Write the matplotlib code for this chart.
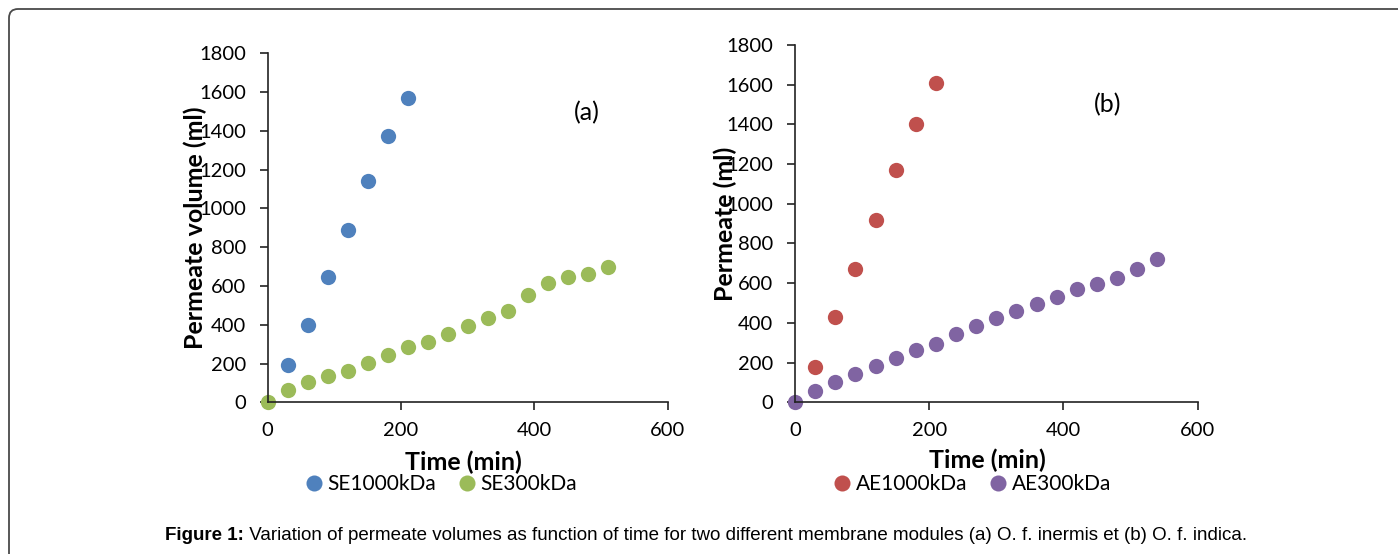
import matplotlib.pyplot as plt
from matplotlib.patches import FancyBboxPatch

# permeate volume (ml) against filtration time (min)
time_1000 = [30, 60, 90, 120, 150, 180, 210]
se1000 = [190, 400, 645, 890, 1140, 1375, 1570]
time_se300 = [0, 30, 60, 90, 120, 150, 180, 210, 240, 270, 300, 330, 360, 390, 420, 450, 480, 510]
se300 = [0, 64, 105, 136, 160, 201, 244, 284, 313, 351, 392, 433, 473, 552, 614, 645, 660, 700]

ae1000 = [180, 430, 670, 920, 1170, 1400, 1610]
time_ae300 = [0, 30, 60, 90, 120, 150, 180, 210, 240, 270, 300, 330, 360, 390, 420, 450, 480, 510, 540]
ae300 = [0, 57, 102, 143, 183, 222, 264, 294, 342, 384, 423, 462, 494, 529, 569, 594, 625, 672, 720]

caption_bold = "Figure 1:"
caption_text = (" Variation of permeate volumes as function of time for two different "
                "membrane modules (a) O. f. inermis et (b) O. f. indica.")

W, H = 1398, 554
plt.rcParams['font.family'] = ['Lato', 'DejaVu Sans']


def fx(px):
    return px / W


def fy(py):
    return 1 - py / H


fig = plt.figure(figsize=(W / 100, H / 100), dpi=100)

# rounded frame around the figure
frame = FancyBboxPatch((9, -30), 1420, 554 - 9 + 30, boxstyle="round,pad=0,rounding_size=9",
                       transform=None, fill=False, edgecolor='#4a4a4a', linewidth=1.3)
fig.patches.append(frame)


def style_axes(ax):
    ax.set_xlim(0, 600)
    ax.set_ylim(0, 1800)
    ax.set_xticks([0, 200, 400, 600])
    ax.set_yticks(range(0, 1801, 200))
    for s in ['top', 'right']:
        ax.spines[s].set_visible(False)
    for s in ['left', 'bottom']:
        ax.spines[s].set_color('#222222')
        ax.spines[s].set_linewidth(1.2)
    ax.tick_params(direction='out', length=5.5, width=1.2, colors='#222222',
                   labelsize=14.5, labelcolor='black')
    ax.tick_params(axis='x', pad=9)
    ax.tick_params(axis='y', pad=10)


ms = 11
ax1 = fig.add_axes([fx(267.7), fy(402.3), fx(400), fy(53.3) - fy(402.3)])
style_axes(ax1)
ax1.plot(time_1000, se1000, 'o', color='#4F81BD', ms=ms, mec='none', clip_on=False, label='SE1000kDa')
ax1.plot(time_se300, se300, 'o', color='#9BBB59', ms=ms, mec='none', clip_on=False, label='SE300kDa')
ax1.text(479, 1492, '(a)', fontsize=18, ha='center', va='center')

ax2 = fig.add_axes([fx(795), fy(402.3), fx(402.7), fy(45) - fy(402.3)])
style_axes(ax2)
ax2.plot(time_1000, ae1000, 'o', color='#C0504D', ms=ms, mec='none', clip_on=False, label='AE1000kDa')
ax2.plot(time_ae300, ae300, 'o', color='#8064A2', ms=ms, mec='none', clip_on=False, label='AE300kDa')
ax2.text(466, 1498, '(b)', fontsize=18, ha='center', va='center')

# axis titles sit over the tick labels, as in the source sheet
fig.text(fx(195), fy(228), 'Permeate volume (ml)', rotation=90, fontsize=18,
         fontweight='bold', ha='center', va='center')
fig.text(fx(725), fy(224), 'Permeate (ml)', rotation=90, fontsize=18,
         fontweight='bold', ha='center', va='center')
fig.text(fx(463), fy(462), 'Time (min)', fontsize=18, fontweight='bold', ha='center', va='center')
fig.text(fx(987), fy(460), 'Time (min)', fontsize=18, fontweight='bold', ha='center', va='center')

for ax, cx in [(ax1, 441), (ax2, 972.5)]:
    fig.legend(handles=ax.get_lines(), loc='center', bbox_to_anchor=(fx(cx), fy(484)),
               ncol=2, frameon=False, fontsize=15, handlelength=0.8, handletextpad=0.25,
               columnspacing=1.07, borderpad=0, markerscale=1.05)

cap = fig.text(fx(165), fy(536), caption_bold, fontsize=13.5, fontweight='bold',
               family=['Liberation Sans'], ha='left', va='center')
fig.canvas.draw()
bb = cap.get_window_extent()
fig.text(bb.x1 / W, fy(536), caption_text, fontsize=13.5, family=['Liberation Sans'],
         ha='left', va='center')

fig.savefig('out.png', dpi=100)
